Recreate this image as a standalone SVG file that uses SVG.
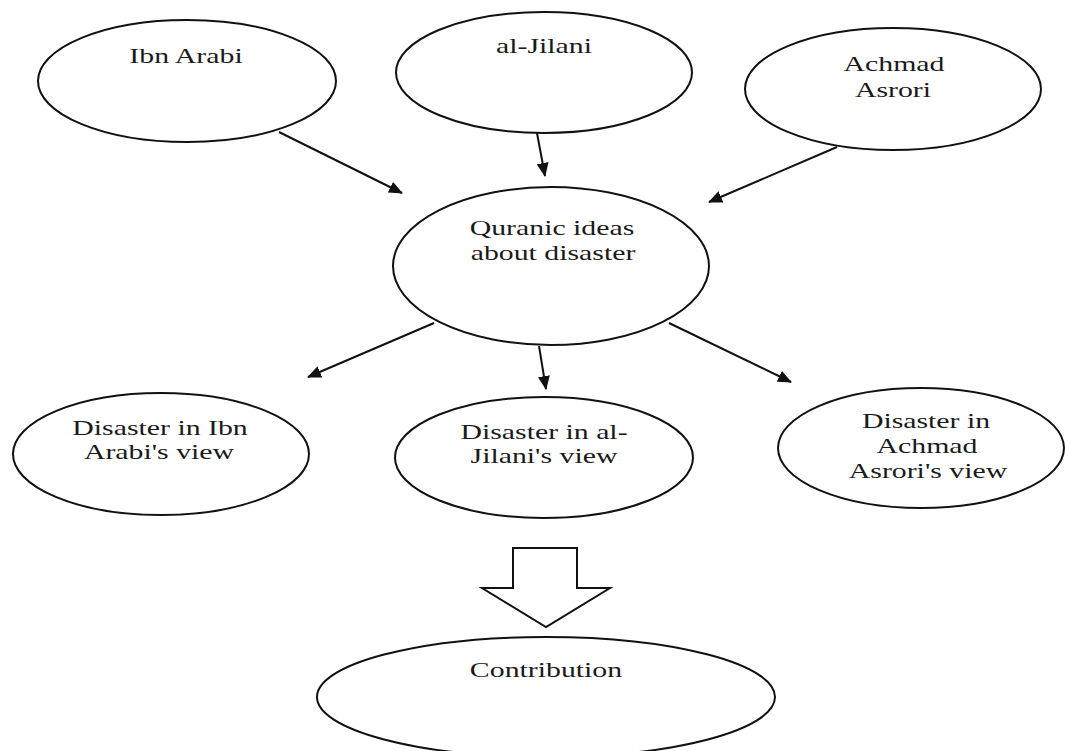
<svg xmlns="http://www.w3.org/2000/svg" width="1065" height="751" viewBox="0 0 1065 751">
<style>
.n ellipse{fill:#fff;stroke:#111;stroke-width:2}
.n text{font-family:"Liberation Serif","Times New Roman",serif;font-size:21px;fill:#1a1a1a;text-anchor:middle}
.c line{stroke:#111;stroke-width:2}
.blk{fill:#fff;stroke:#111;stroke-width:2;stroke-linejoin:miter}
</style>
<defs>
<marker id="ah" markerUnits="userSpaceOnUse" markerWidth="14" markerHeight="12" refX="13" refY="6" orient="auto">
<path d="M0,0 L14,6 L0,12 z" fill="#111"/>
</marker>
</defs>
<rect width="1065" height="751" fill="#fff"/>
<g class="c" id="connectors">
<line x1="279" y1="132" x2="402" y2="193" marker-end="url(#ah)"/>
<line x1="537" y1="133" x2="545" y2="176" marker-end="url(#ah)"/>
<line x1="837" y1="147" x2="709" y2="202" marker-end="url(#ah)"/>
<line x1="434" y1="323" x2="308" y2="377" marker-end="url(#ah)"/>
<line x1="539" y1="346" x2="546" y2="389" marker-end="url(#ah)"/>
<line x1="669" y1="323" x2="791" y2="382" marker-end="url(#ah)"/>
<polygon class="blk" points="513,548 577,548 577,588 610,588 546,627 482,588 513,588"/>
</g>
<g class="n" id="ibn-arabi">
<ellipse cx="187" cy="81" rx="149" ry="61"/>
<text transform="translate(186,63) scale(1.42,1)">Ibn Arabi</text>
</g>
<g class="n" id="al-jilani">
<ellipse cx="544" cy="72.5" rx="148" ry="60.5"/>
<text transform="translate(544,53) scale(1.42,1)">al-Jilani</text>
</g>
<g class="n" id="achmad-asrori">
<ellipse cx="893" cy="89" rx="148" ry="61"/>
<text transform="translate(894,71) scale(1.42,1)">Achmad</text>
<text transform="translate(893,97) scale(1.42,1)">Asrori</text>
</g>
<g class="n" id="quranic">
<ellipse cx="551" cy="266" rx="158" ry="79"/>
<text transform="translate(552,235) scale(1.42,1)">Quranic ideas</text>
<text transform="translate(553,260) scale(1.42,1)">about disaster</text>
</g>
<g class="n" id="disaster-ibn-arabi">
<ellipse cx="161" cy="454" rx="148" ry="61"/>
<text transform="translate(160,435) scale(1.42,1)">Disaster in Ibn</text>
<text transform="translate(159,459) scale(1.42,1)">Arabi's view</text>
</g>
<g class="n" id="disaster-al-jilani">
<ellipse cx="544" cy="457.5" rx="149" ry="60.5"/>
<text transform="translate(544,439) scale(1.42,1)">Disaster in al-</text>
<text transform="translate(544,463) scale(1.42,1)">Jilani's view</text>
</g>
<g class="n" id="disaster-achmad-asrori">
<ellipse cx="921" cy="448" rx="143" ry="60"/>
<text transform="translate(926,428) scale(1.42,1)">Disaster in</text>
<text transform="translate(927,453) scale(1.42,1)">Achmad</text>
<text transform="translate(928,478) scale(1.42,1)">Asrori's view</text>
</g>
<g class="n" id="contribution">
<ellipse cx="546" cy="697" rx="229" ry="60"/>
<text transform="translate(546,677) scale(1.42,1)">Contribution</text>
</g>
</svg>
